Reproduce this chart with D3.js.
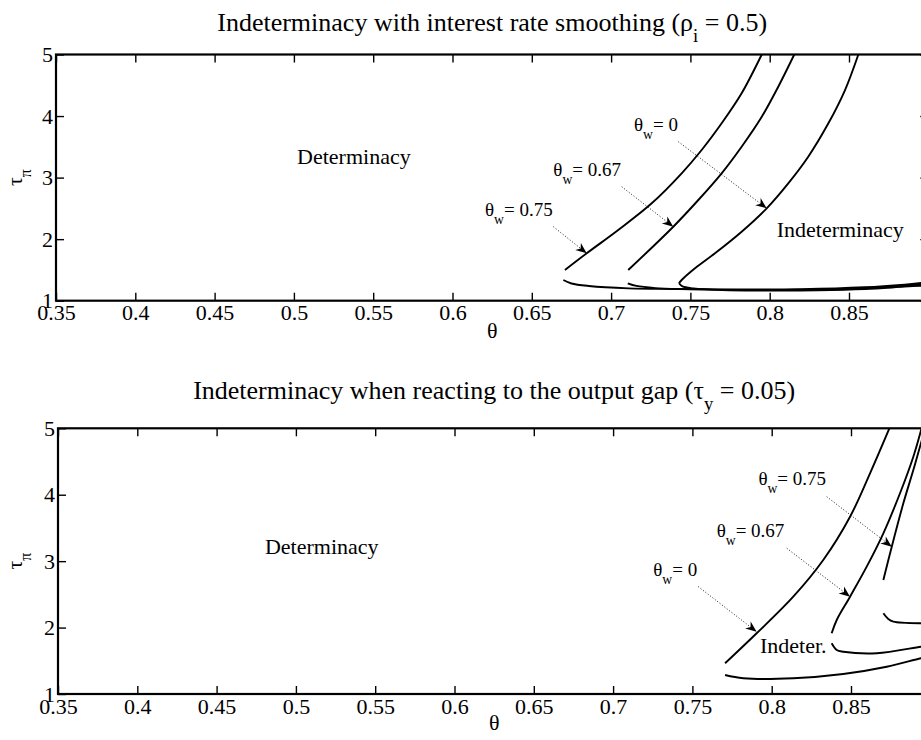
<!DOCTYPE html>
<html>
<head>
<meta charset="utf-8">
<script src="https://cdn.jsdelivr.net/npm/d3@7"></script>
<style>
body { margin: 0; background: #fff; }
svg { display: block; font-family: "Liberation Serif", "Times New Roman", serif; }
</style>
</head>
<body>
<div id="box"></div>
<script>
// axis ticks (0.9 sits on the cropped right edge, its label is not shown)
var xTicks = [0.35, 0.4, 0.45, 0.5, 0.55, 0.6, 0.65, 0.7, 0.75, 0.8, 0.85];
var yTicks = [1, 2, 3, 4, 5];

// panel 1: interest rate smoothing, boundaries [theta, tau_pi]
var smoothUpper075 = [[0.6709, 1.499], [0.6846, 1.77], [0.7045, 2.149], [0.7256, 2.582], [0.7445, 3.07], [0.7571, 3.448], [0.7697, 3.882], [0.7823, 4.37], [0.795, 5.0]];
var smoothLower075 = [[0.6699, 1.336], [0.675, 1.28], [0.686, 1.239], [0.711, 1.201], [0.74, 1.19], [0.78, 1.182], [0.82, 1.186], [0.86, 1.218], [0.885, 1.262], [0.9, 1.3]];
var smoothUpper067 = [[0.7108, 1.499], [0.7392, 2.202], [0.755, 2.636], [0.7697, 3.07], [0.7823, 3.502], [0.795, 3.989], [0.8054, 4.477], [0.8155, 5.0]];
var smoothLower067 = [[0.7105, 1.283], [0.716, 1.24], [0.728, 1.205], [0.745, 1.188], [0.78, 1.176], [0.82, 1.178], [0.86, 1.203], [0.885, 1.245], [0.9, 1.275]];
var smoothUpper0 = [[0.7428, 1.283], [0.7445, 1.336], [0.7529, 1.526], [0.7655, 1.77], [0.7823, 2.121], [0.7981, 2.501], [0.8117, 2.907], [0.8243, 3.34], [0.837, 3.882], [0.8475, 4.423], [0.8559, 5.0]];
var smoothLower0 = [[0.7428, 1.283], [0.745, 1.232], [0.752, 1.2], [0.77, 1.174], [0.8, 1.166], [0.83, 1.17], [0.86, 1.19], [0.885, 1.228], [0.9, 1.25]];

// panel 2: reacting to the output gap
var gapUpper0 = [[0.7706, 1.462], [0.7905, 1.914], [0.8136, 2.465], [0.8325, 3.017], [0.8494, 3.669], [0.862, 4.323], [0.8742, 5.0]];
var gapLower0 = [[0.7706, 1.286], [0.7821, 1.237], [0.8136, 1.237], [0.8451, 1.301], [0.8725, 1.411], [0.8941, 1.538], [0.9, 1.565]];
var gapUpper067 = [[0.8378, 1.914], [0.841, 2.114], [0.8494, 2.465], [0.8599, 2.917], [0.8704, 3.419], [0.8809, 4.022], [0.8893, 4.572], [0.8945, 5.0]];
var gapLower067 = [[0.8378, 1.764], [0.841, 1.663], [0.8451, 1.637], [0.8662, 1.613], [0.8941, 1.712], [0.9, 1.73]];
var gapUpper075 = [[0.8704, 2.716], [0.8757, 3.218], [0.883, 3.871], [0.8893, 4.372], [0.8941, 4.774], [0.8968, 5.0]];
var gapLower075 = [[0.8704, 2.215], [0.8735, 2.129], [0.8767, 2.089], [0.8941, 2.065], [0.9, 2.07]];

// labels: text parts, where it sits, arrow from/to (data coords)
var smoothNotes = [
    { parts: [["θ"], ["w", 1], ["= 0.75"]], at: [0.6205, 2.376], from: [0.6636, 2.202], to: [0.6846, 1.77] },
    { parts: [["θ"], ["w", 1], ["= 0.67"]], at: [0.6636, 3.026], from: [0.7067, 2.852], to: [0.7392, 2.202] },
    { parts: [["θ"], ["w", 1], ["= 0"]], at: [0.7144, 3.762], from: [0.7424, 3.583], to: [0.7981, 2.501] }
];
var smoothRegions = [
    { text: "Determinacy", at: [0.502, 3.22] },
    { text: "Indeterminacy", at: [0.8044, 2.04] }
];
var gapNotes = [
    { parts: [["θ"], ["w", 1], ["= 0.75"]], at: [0.7916, 4.146], from: [0.8347, 3.97], to: [0.8757, 3.218] },
    { parts: [["θ"], ["w", 1], ["= 0.67"]], at: [0.7653, 3.364], from: [0.8095, 3.194], to: [0.8494, 2.465] },
    { parts: [["θ"], ["w", 1], ["= 0"]], at: [0.7253, 2.781], from: [0.7537, 2.616], to: [0.7905, 1.938] }
];
var gapRegions = [
    { text: "Determinacy", at: [0.4805, 3.108] },
    { text: "Indeter.", at: [0.7926, 1.613] }
];

var panels = [
    {
        left: 56, right: 928.3, top: 54.5, bottom: 300.7, titleY: 31, xlabY: 338,
        title: [["Indeterminacy with interest rate smoothing (ρ"], ["i", 1], [" = 0.5)"]],
        curves: [smoothUpper075, smoothLower075, smoothUpper067, smoothLower067, smoothUpper0, smoothLower0],
        notes: smoothNotes, regions: smoothRegions
    },
    {
        left: 58, right: 930.3, top: 428.3, bottom: 694, titleY: 399, xlabY: 730,
        title: [["Indeterminacy when reacting to the output gap (τ"], ["y", 1], [" = 0.05)"]],
        curves: [gapUpper0, gapLower0, gapUpper067, gapLower067, gapUpper075, gapLower075],
        notes: gapNotes, regions: gapRegions
    }
];

var svg = d3.select("#box")
    .append("svg")
    .attr("width", 921)
    .attr("height", 740);

svg.append("rect").attr("width", 921).attr("height", 740).attr("fill", "#fff");

// text with subscripts
function richText(g, x, y, parts, size, anchor, transform) {
    var t = g.append("text")
        .attr("font-size", size)
        .attr("text-anchor", anchor || "start")
        .attr("fill", "#000");
    if (transform) t.attr("transform", transform);
    else t.attr("x", x).attr("y", y);
    var inSub = false;
    parts.forEach(function(p) {
        var s = t.append("tspan").text(p[0]);
        if (p[1] && !inSub) { s.attr("font-size", size * 0.72).attr("dy", size * 0.42); inSub = true; }
        else if (!p[1] && inSub) { s.attr("dy", -size * 0.42); inSub = false; }
    });
    return t;
}

function arrow(g, x0, y0, x1, y1) {
    var dx = x1 - x0, dy = y1 - y0;
    var len = Math.sqrt(dx * dx + dy * dy);
    var ux = dx / len, uy = dy / len;
    var nx = -uy, ny = ux;
    var L = 11, W = 4.5;
    g.append("line")
        .attr("x1", x0).attr("y1", y0)
        .attr("x2", x1 - ux * L * 0.7).attr("y2", y1 - uy * L * 0.7)
        .attr("stroke", "#000")
        .attr("stroke-width", 0.9)
        .attr("stroke-dasharray", "1 2");
    var pts = [
        [x1, y1],
        [x1 - ux * L + nx * W, y1 - uy * L + ny * W],
        [x1 - ux * L * 0.7, y1 - uy * L * 0.7],
        [x1 - ux * L - nx * W, y1 - uy * L - ny * W]
    ];
    g.append("polygon")
        .attr("points", pts.map(function(p) { return p.join(","); }).join(" "))
        .attr("fill", "#000");
}

panels.forEach(function(p, i) {
    var x = d3.scaleLinear().domain([0.35, 0.9]).range([p.left, p.right]);
    var y = d3.scaleLinear().domain([1, 5]).range([p.bottom, p.top]);
    var g = svg.append("g");

    g.append("clipPath").attr("id", "clip" + i)
        .append("rect")
        .attr("x", x(0.35)).attr("y", y(5))
        .attr("width", x(0.9) - x(0.35)).attr("height", y(1) - y(5));

    // axes with inward ticks
    var axB = g.append("g").attr("transform", "translate(0," + y(1) + ")")
        .call(d3.axisBottom(x).tickValues(xTicks).tickFormat(function(d) { return String(d); })
            .tickSizeInner(-8).tickSizeOuter(0).tickPadding(4));
    var axT = g.append("g").attr("transform", "translate(0," + y(5) + ")")
        .call(d3.axisTop(x).tickValues(xTicks).tickFormat("").tickSizeInner(-8).tickSizeOuter(0));
    var axL = g.append("g").attr("transform", "translate(" + x(0.35) + ",0)")
        .call(d3.axisLeft(y).tickValues(yTicks).tickFormat(function(d) { return String(d); })
            .tickSizeInner(-8).tickSizeOuter(0).tickPadding(3));
    var axR = g.append("g").attr("transform", "translate(" + x(0.9) + ",0)")
        .call(d3.axisRight(y).tickValues(yTicks).tickFormat("").tickSizeInner(-8).tickSizeOuter(0));

    [axB, axT, axL, axR].forEach(function(a) {
        a.attr("font-family", null).attr("font-size", 22);
        a.select(".domain").remove();
        a.selectAll(".tick line").attr("stroke", "#000").attr("stroke-width", 1.4);
        a.selectAll(".tick text").attr("fill", "#000");
    });

    g.append("rect")
        .attr("x", x(0.35)).attr("y", y(5))
        .attr("width", x(0.9) - x(0.35)).attr("height", y(1) - y(5))
        .attr("fill", "none")
        .attr("stroke", "#000")
        .attr("stroke-width", 2.2);

    // boundaries
    var line = d3.line()
        .x(function(d) { return x(d[0]); })
        .y(function(d) { return y(d[1]); })
        .curve(d3.curveCatmullRom.alpha(0.5));

    g.append("g").attr("clip-path", "url(#clip" + i + ")")
        .selectAll("path")
        .data(p.curves)
        .enter()
        .append("path")
        .attr("d", line)
        .attr("fill", "none")
        .attr("stroke", "#000")
        .attr("stroke-width", 1.9);

    // region names
    p.regions.forEach(function(r) {
        g.append("text")
            .attr("x", x(r.at[0])).attr("y", y(r.at[1]))
            .attr("font-size", 22)
            .attr("fill", "#000")
            .text(r.text);
    });

    // theta_w labels and arrows
    p.notes.forEach(function(n) {
        richText(g, x(n.at[0]), y(n.at[1]), n.parts, 19, "start");
        arrow(g, x(n.from[0]), y(n.from[1]), x(n.to[0]), y(n.to[1]));
    });

    var cx = (x(0.35) + x(0.9)) / 2;
    richText(g, cx, p.titleY, p.title, 26, "middle");
    richText(g, cx, p.xlabY, [["θ"]], 22, "middle");
    var cy = (y(1) + y(5)) / 2;
    richText(g, 0, 0, [["τ"], ["π", 1]], 22, "middle", "translate(22," + cy + ") rotate(-90)");
});
</script>
</body>
</html>
